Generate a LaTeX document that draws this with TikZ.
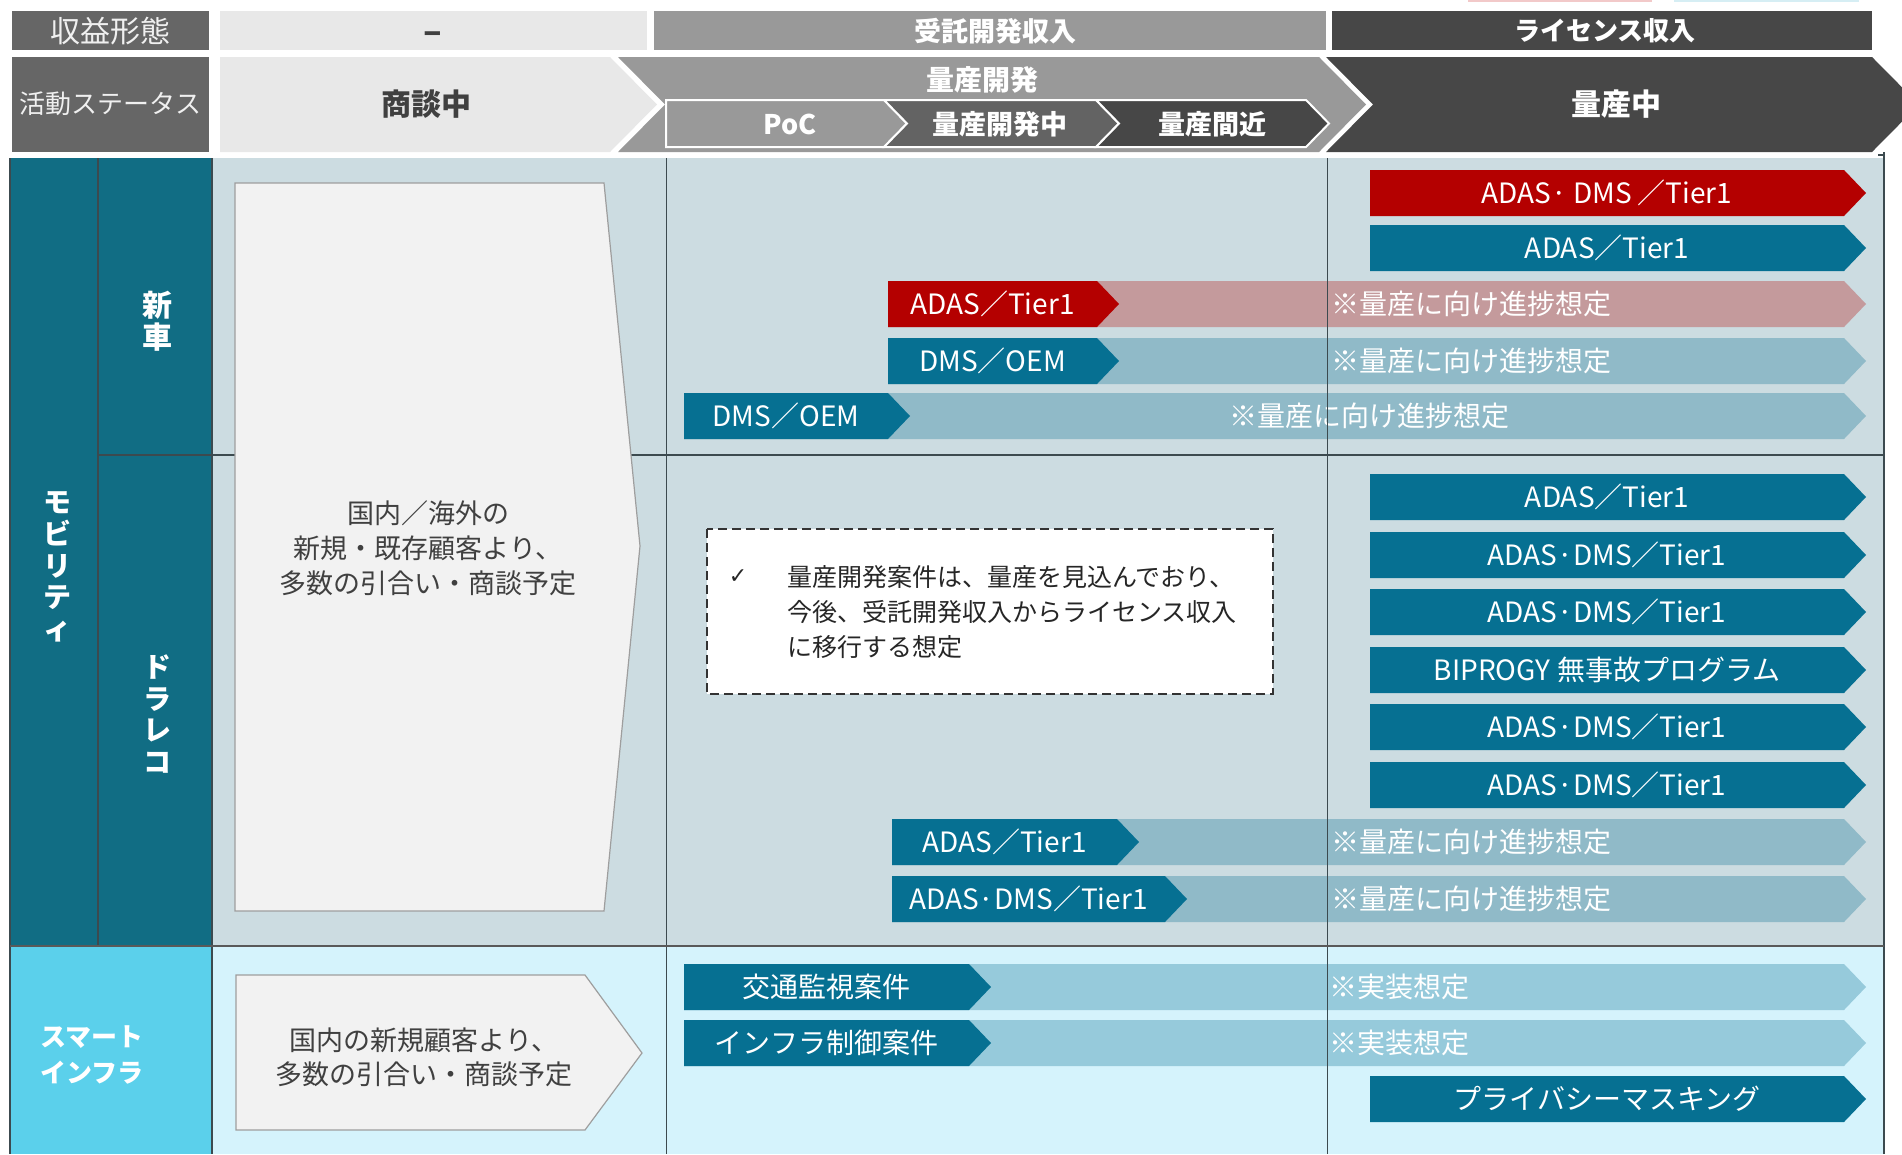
\documentclass[tikz,border=0pt]{standalone}
\usepackage{fontspec}
\setmainfont{Noto Sans CJK JP}
\newfontfamily\symfont{DejaVu Sans}
\definecolor{hdrlab}{HTML}{666666}
\definecolor{lightg}{HTML}{E8E8E8}
\definecolor{midg}{HTML}{999999}
\definecolor{devg}{HTML}{636363}
\definecolor{darkg}{HTML}{474747}
\definecolor{mobbg}{HTML}{CCDCE1}
\definecolor{infbg}{HTML}{D5F3FC}
\definecolor{mobcol}{HTML}{116D84}
\definecolor{infcol}{HTML}{5BD0EB}
\definecolor{barteal}{HTML}{067092}
\definecolor{barred}{HTML}{B40000}
\definecolor{pinkext}{HTML}{C49A9C}
\definecolor{blueext}{HTML}{90BAC8}
\definecolor{infext}{HTML}{96CADB}
\definecolor{linec}{HTML}{3C4A4F}
\definecolor{txtdark}{HTML}{404040}
\definecolor{arrowfill}{HTML}{F2F2F2}
\definecolor{legpink}{HTML}{F2C9C9}
\definecolor{legblue}{HTML}{D6EEF4}
\newcommand\fs[2]{\fontsize{#1}{#2}\selectfont}
% full bar: name, x1, x2, yc, colour, text
\newcommand\chevbar[6]{%
  \fill[#5] (#2,#4-23) -- (#3,#4-23) -- (#3+22,#4) -- (#3,#4+23) -- (#2,#4+23) -- cycle;
  \node[bartxt] (#1) at ({(#2+#3)/2},#4) {#6};}
% extension bar: name, x1, yc, colour, text x, text
\newcommand\extbar[6]{%
  \fill[#4] (#2,#3-23) -- (1844,#3-23) -- (1866,#3) -- (1844,#3+23) -- (#2,#3+23) -- cycle;
  \node[bartxt,anchor=west] (#1) at (#5,#3) {#6};}
\begin{document}
\begin{tikzpicture}[x=1pt,y=-1pt,
  bartxt/.style={text=white,font=\fs{28}{34},inner sep=0pt},
  hdrtxt/.style={inner sep=0pt,font=\fs{28}{34}},
  vlabel/.style={text=white,align=center,inner sep=0pt},
  gridline/.style={draw=linec,line width=1.3pt},
  subchev/.style={draw=white,line width=2pt}]
\useasboundingbox (0,0) rectangle (1902,1154);
\clip (0,0) rectangle (1902,1154);
% legend fragments at the top edge
\fill[legpink] (1468,0) rectangle (1652,1.5);
\fill[legblue] (1674,0) rectangle (1859,1.5);
% ---------- header row 1
\fill[hdrlab] (12,11) rectangle (209,50);
\fill[lightg] (220,11) rectangle (647,50);
\fill[midg] (654,11) rectangle (1326,50);
\fill[darkg] (1332,11) rectangle (1872,50);
\node[hdrtxt,text=white!94!black,font=\fs{30}{34}] (rev) at (110,31) {収益形態};
\node[hdrtxt,text=txtdark,font=\bfseries\fs{34}{38},anchor=base] (dash) at (433,43) {–};
\node[hdrtxt,text=white,font=\bfseries\fs{27}{32}] (itaku) at (995,31) {受託開発収入};
\node[hdrtxt,text=white,font=\bfseries\fs{26}{32}] (lic) at (1605,31) {ライセンス収入};
% ---------- header row 2
\fill[hdrlab] (12,57) rectangle (209,152);
\node[hdrtxt,text=white!94!black,font=\fs{26}{32}] (act) at (110,104) {活動ステータス};
\fill[lightg] (220,57) -- (610,57) -- (657,104.5) -- (610,152) -- (220,152) -- cycle;
\node[hdrtxt,text=txtdark,font=\bfseries\fs{30}{34}] (shodan) at (426,104) {商談中};
\fill[midg] (618,57) -- (1319,57) -- (1366,104.5) -- (1319,152) -- (618,152) -- (665,104.5) -- cycle;
\node[hdrtxt,text=white,font=\bfseries\fs{28}{34}] (ryosan) at (982,80) {量産開発};
\fill[darkg] (1326,57) -- (1872,57) -- (1919,104.5) -- (1872,152) -- (1326,152) -- (1373,104.5) -- cycle;
\node[hdrtxt,text=white,font=\bfseries\fs{30}{34}] (mass) at (1616,104) {量産中};
\filldraw[subchev,fill=midg] (666,100) -- (884,100) -- (907,123.5) -- (884,147) -- (666,147) -- cycle;
\filldraw[subchev,fill=devg] (884,100) -- (1096,100) -- (1119,123.5) -- (1096,147) -- (884,147) -- (907,123.5) -- cycle;
\filldraw[subchev,fill=darkg] (1096,100) -- (1306,100) -- (1329,123.5) -- (1306,147) -- (1096,147) -- (1119,123.5) -- cycle;
\node[hdrtxt,text=white,font=\bfseries\fs{27}{32}] (poc) at (790,124) {PoC};
\node[hdrtxt,text=white,font=\bfseries\fs{27}{32}] (devnow) at (1000,124) {量産開発中};
\node[hdrtxt,text=white,font=\bfseries\fs{27}{32}] (near) at (1212,124) {量産間近};
% ---------- body backgrounds
\fill[mobcol] (10,158) rectangle (212,946);
\fill[mobbg] (212,158) rectangle (1884,946);
\fill[infcol] (10,946) rectangle (212,1154);
\fill[infbg] (212,946) rectangle (1884,1154);
% ---------- extension bars
\extbar{e3}{888}{304}{pinkext}{1331}{※量産に向け進捗想定}
\extbar{e4}{888}{361}{blueext}{1331}{※量産に向け進捗想定}
\extbar{e5}{684}{416}{blueext}{1229}{※量産に向け進捗想定}
\extbar{e12}{892}{842}{blueext}{1331}{※量産に向け進捗想定}
\extbar{e13}{892}{899}{blueext}{1331}{※量産に向け進捗想定}
\extbar{eA}{684}{987}{infext}{1329}{※実装想定}
\extbar{eB}{684}{1043}{infext}{1329}{※実装想定}
% ---------- grid lines
\draw[gridline] (98,158) -- (98,946);
\draw[gridline] (212,158) -- (212,1154);
\draw[draw=linec,line width=1pt] (666,158) -- (666,1154);
\draw[draw=linec,line width=1pt] (1327,158) -- (1327,1154);
\draw[draw=linec,line width=1.2pt] (1884,152) -- (1884,1154);
\draw[draw=linec,line width=1.2pt] (1878,155) -- (1884,155);
\draw[draw=linec,line width=1.2pt] (10,158) -- (10,1154);
\draw[draw=linec,line width=2pt] (98,455) -- (1884,455);
\draw[draw=black!65,line width=2.6pt] (10,946) -- (1884,946);
% ---------- left column labels
\node[vlabel,font=\bfseries\fs{28}{31.7}] (mob) at (57,567) {モ\\ビ\\リ\\テ\\ィ};
\node[vlabel,font=\bfseries\fs{30}{32}] (shinsha) at (157,321) {新\\車};
\node[vlabel,font=\bfseries\fs{28}{31.7}] (drarec) at (157,714) {ド\\ラ\\レ\\コ};
\node[vlabel,font=\bfseries\fs{26}{36}] (smart) at (92,1055) {スマート\\インフラ};
% ---------- negotiation arrows
\filldraw[fill=arrowfill,draw=black!38,line width=1.2pt] (235,183) -- (604,183) -- (640,546) -- (604,911) -- (235,911) -- cycle;
\node[text=txtdark,font=\fs{27}{35},align=center,inner sep=0pt] (mobneg) at (428,548) {国内／海外の\\新規・既存顧客より、\\多数の引合い・商談予定};
\filldraw[fill=arrowfill,draw=black!38,line width=1.2pt] (236,975) -- (585,975) -- (642,1053) -- (585,1130) -- (236,1130) -- cycle;
\node[text=txtdark,font=\fs{27}{34},align=center,inner sep=0pt] (infneg) at (424,1057) {国内の新規顧客より、\\多数の引合い・商談予定};
% ---------- dashed note
\filldraw[fill=white,draw=black!80,line width=1.8pt,dash pattern=on 9pt off 5pt] (707,529) rectangle (1273,694);
\node[text=black!85,font=\symfont\fs{22}{26},inner sep=0pt] (check) at (738,577) {✓};
\node[text=black!85,font=\fs{25}{35},align=left,anchor=west,inner sep=0pt] (note) at (787,612) {量産開発案件は、量産を見込んでおり、\\今後、受託開発収入からライセンス収入\\に移行する想定};
% ---------- bars, 新車
\chevbar{b1}{1370}{1844}{193}{barred}{ADAS· DMS ／Tier1}
\chevbar{b2}{1370}{1844}{248}{barteal}{ADAS／Tier1}
\chevbar{b3}{888}{1097}{304}{barred}{ADAS／Tier1}
\chevbar{b4}{888}{1097}{361}{barteal}{DMS／OEM}
\chevbar{b5}{684}{888}{416}{barteal}{DMS／OEM}
% ---------- bars, ドラレコ
\chevbar{b6}{1370}{1844}{497}{barteal}{ADAS／Tier1}
\chevbar{b7}{1370}{1844}{555}{barteal}{ADAS·DMS／Tier1}
\chevbar{b8}{1370}{1844}{612}{barteal}{ADAS·DMS／Tier1}
\chevbar{b9}{1370}{1844}{670}{barteal}{BIPROGY 無事故プログラム}
\chevbar{b10}{1370}{1844}{727}{barteal}{ADAS·DMS／Tier1}
\chevbar{b11}{1370}{1844}{785}{barteal}{ADAS·DMS／Tier1}
\chevbar{b12}{892}{1117}{842}{barteal}{ADAS／Tier1}
\chevbar{b13}{892}{1165}{899}{barteal}{ADAS·DMS／Tier1}
% ---------- bars, smart infra
\chevbar{bA}{684}{969}{987}{barteal}{交通監視案件}
\chevbar{bB}{684}{969}{1043}{barteal}{インフラ制御案件}
\chevbar{bC}{1370}{1844}{1099}{barteal}{プライバシーマスキング}
\end{tikzpicture}
\end{document}
